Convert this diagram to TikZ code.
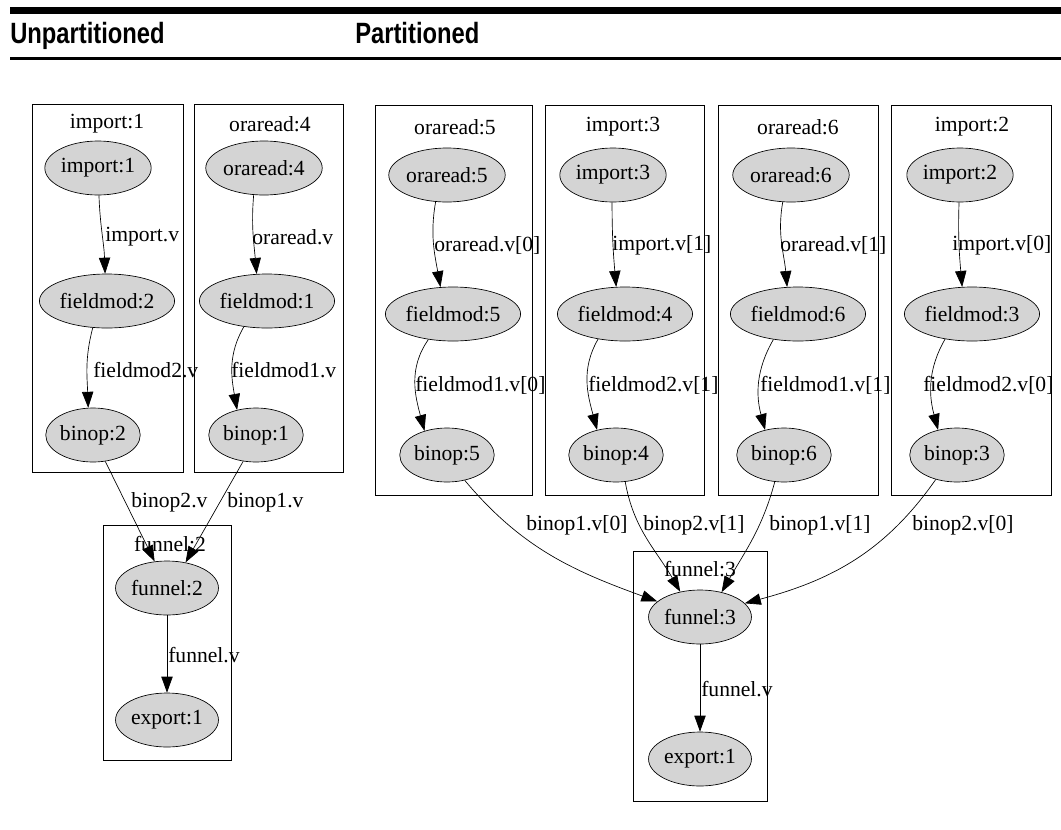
\documentclass[tikz,border=0pt]{standalone}
\usepackage{fontspec}
\setmainfont{Liberation Serif}
\newfontfamily\headfont[FakeStretch=0.81]{Liberation Sans}
\usetikzlibrary{shapes.geometric,arrows.meta}
\newcommand\gsize{\fontsize{16.2pt}{19pt}\selectfont}

\begin{document}
\begin{tikzpicture}[x=0.75pt,y=-0.75pt,
    op/.style={draw, ellipse, fill=black!17, line width=0.5pt, minimum height=40.5pt, inner xsep=0.3pt, font=\gsize},
    lbl/.style={anchor=west, inner sep=0pt, font=\gsize},
    ttl/.style={inner sep=0pt, font=\gsize},
    head/.style={anchor=base west, inner sep=0pt, font=\headfont\bfseries\fontsize{22pt}{26pt}\selectfont},
    clus/.style={draw, line width=0.6pt},
    edge/.style={draw, line width=0.5pt, -{Triangle[length=12pt,width=8.5pt]}}]
    \useasboundingbox (0,0) rectangle (1061,829);

    \fill (10,7) rectangle (1061,14);
    \fill (10,57) rectangle (1061,60);
    \node[head] (hu) at (10,43) {Unpartitioned};
    \node[head] (hp) at (355,43) {Partitioned};

    \draw[clus] (32,104) rectangle (183,472);
    \draw[clus] (194,104) rectangle (343,472);
    \draw[clus] (103,525) rectangle (231,760);
    \node[ttl] (tA) at (107,124) {import:1};
    \node[ttl] (tB) at (270,124) {oraread:4};
    \node[ttl] (tC) at (170,544) {funnel:2};

    \draw[clus] (375,105) rectangle (532,495);
    \draw[clus] (545,105) rectangle (704,495);
    \draw[clus] (718,105) rectangle (878,495);
    \draw[clus] (891,105) rectangle (1051,495);
    \draw[clus] (633,551) rectangle (767,801);
    \node[ttl] (tD) at (455,127) {oraread:5};
    \node[ttl] (tE) at (623,127) {import:3};
    \node[ttl] (tF) at (798,127) {oraread:6};
    \node[ttl] (tG) at (972,127) {import:2};
    \node[ttl] (tH) at (700,569) {funnel:3};

    \node[op] (imp1) at (98,168) {import:1};
    \node[op] (fm2) at (107,301) {fieldmod:2};
    \node[op] (bin2) at (93,435) {binop:2};
    \node[op] (ora4) at (264,168) {oraread:4};
    \node[op] (fm1) at (267,301) {fieldmod:1};
    \node[op] (bin1) at (256,435) {binop:1};
    \node[op] (fun2) at (167,588) {funnel:2};
    \node[op] (exp1a) at (167,720) {export:1};

    \node[op] (ora5) at (447,175) {oraread:5};
    \node[op] (fm5) at (453,314) {fieldmod:5};
    \node[op] (bin5) at (447,455) {binop:5};
    \node[op] (imp3) at (613,175) {import:3};
    \node[op] (fm4) at (625,314) {fieldmod:4};
    \node[op] (bin4) at (616,455) {binop:4};
    \node[op] (ora6) at (791,175) {oraread:6};
    \node[op] (fm6) at (798,314) {fieldmod:6};
    \node[op] (bin6) at (784,455) {binop:6};
    \node[op] (imp2) at (960,175) {import:2};
    \node[op] (fm3) at (972,314) {fieldmod:3};
    \node[op] (bin3) at (957,455) {binop:3};
    \node[op] (fun3) at (700,617) {funnel:3};
    \node[op] (exp1b) at (700,759) {export:1};

    \draw[edge] (imp1.-88) to[out=-88,in=92] (fm2.94);
    \draw[edge] (fm2.-118) to[out=-105,in=92] (bin2.100);
    \draw[edge] (ora4.-111) to[out=-95,in=95] (fm1.111);
    \draw[edge] (fm1.-132) to[out=-120,in=100] (bin1.127);
    \draw[edge] (bin2.-65) -- (fun2.115);
    \draw[edge] (bin1.-116) -- (fun2.54);
    \draw[edge] (fun2) -- (exp1a);

    \draw[edge] (ora5.-113) to[out=-100,in=100] (fm5.115);
    \draw[edge] (fm5.-134) to[out=-125,in=105] (bin5.133);
    \draw[edge] (imp3.-92) to[out=-90,in=95] (fm4.108);
    \draw[edge] (fm4.-137) to[out=-120,in=105] (bin4.127);
    \draw[edge] (ora6.-107) to[out=-100,in=95] (fm6.112);
    \draw[edge] (fm6.-134) to[out=-120,in=105] (bin6.127);
    \draw[edge] (imp2.-92) to[out=-92,in=95] (fm3.110);
    \draw[edge] (fm3.-137) to[out=-120,in=105] (bin3.127);
    \draw[edge] (bin5.-55) to[out=-50,in=160] (fun3.160);
    \draw[edge] (bin4.-71) to[out=-80,in=120] (fun3.128);
    \draw[edge] (bin6.-109) to[out=-105,in=60] (fun3.49);
    \draw[edge] (bin3.-131) to[out=-125,in=15] (fun3.17);
    \draw[edge] (fun3) -- (exp1b);

    \node[lbl] (e1) at (105,237) {import.v};
    \node[lbl] (e2) at (93,370) {fieldmod2.v};
    \node[lbl] (e3) at (252,237) {oraread.v};
    \node[lbl] (e4) at (231,370) {fieldmod1.v};
    \node[lbl] (e5) at (131,502) {binop2.v};
    \node[lbl] (e6) at (227,502) {binop1.v};
    \node[lbl] (e7) at (168,655) {funnel.v};

    \node[lbl] (e8) at (434,245) {oraread.v[0]};
    \node[lbl] (e9) at (415,385) {fieldmod1.v[0]};
    \node[lbl] (e10) at (612,245) {import.v[1]};
    \node[lbl] (e11) at (588,385) {fieldmod2.v[1]};
    \node[lbl] (e12) at (780,245) {oraread.v[1]};
    \node[lbl] (e13) at (760,385) {fieldmod1.v[1]};
    \node[lbl] (e14) at (952,245) {import.v[0]};
    \node[lbl] (e15) at (923,385) {fieldmod2.v[0]};
    \node[lbl] (e16) at (526,525) {binop1.v[0]};
    \node[lbl] (e17) at (643,525) {binop2.v[1]};
    \node[lbl] (e18) at (769,525) {binop1.v[1]};
    \node[lbl] (e19) at (912,525) {binop2.v[0]};
    \node[lbl] (e20) at (701,689) {funnel.v};
\end{tikzpicture}
\end{document}
